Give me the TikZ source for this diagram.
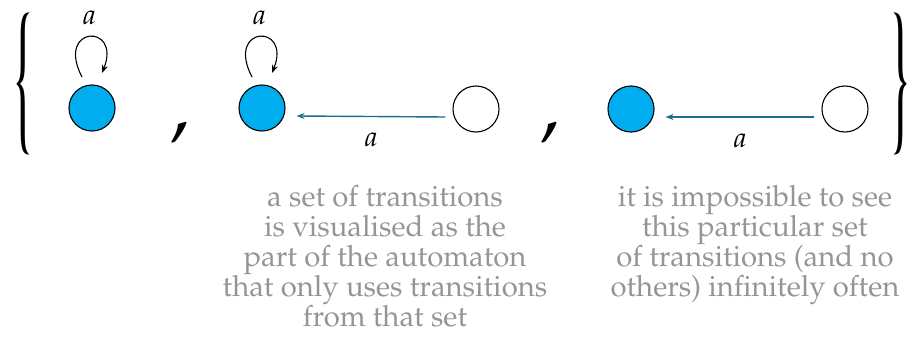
\documentclass[tikz,border=0pt]{standalone}
\usepackage[T1]{fontenc}
\usepackage{mathpazo}
\usepackage{graphicx}
\usetikzlibrary{arrows.meta,positioning}
\definecolor{statefill}{RGB}{0,174,239}
\definecolor{transcol}{RGB}{28,110,145}
\definecolor{notegray}{RGB}{147,149,152}
\tikzset{
  basic/.style  = {draw, circle, minimum size=46pt, inner sep=0pt, line width=1.1pt},
  accepting/.style = {basic, fill=statefill},
  plain/.style = {basic, fill=white},
  loopy/.style = {-{Stealth[length=8pt,width=6pt]}, line width=1.1pt},
  trans/.style = {-{Stealth[length=8pt,width=6pt]}, transcol, line width=1.4pt},
  lbl/.style = {font=\fontsize{28}{28}\selectfont, inner sep=0pt, text=black},
  sep/.style = {font=\fontsize{76}{76}\selectfont, inner sep=0pt},
  brace/.style = {inner sep=0pt},
  note/.style = {align=center, text=notegray, inner sep=0pt,
                 font=\fontsize{29.3}{30}\selectfont}
}

\begin{document}
\begin{tikzpicture}[x=1pt,y=-1pt]
\useasboundingbox (0,0) rectangle (909,353);
% the set
\node[brace] (lb) at (23.5,83) {\resizebox*{19pt}{140pt}{\textbraceleft}};
\node[brace] (rb) at (900.5,83) {\resizebox*{19pt}{140pt}{\textbraceright}};
\node[sep] (cm1) at (180,133) {,};
\node[sep] (cm2) at (550,133) {,};
% first element: a self loop
\node[accepting] (s1) at (92,108) {};
\draw[loopy] ([shift={(-10,-31)}]s1.center) .. controls +(-27,-52) and +(20,-50) .. ([shift={(10,-35)}]s1.center)
  node[lbl, pos=0.5, above=11pt] (l1) {$a$};
% second element
\node[accepting] (s2) at (262,108) {};
\node[plain] (s3) at (476,109) {};
\draw[loopy] ([shift={(-10,-31)}]s2.center) .. controls +(-27,-52) and +(20,-50) .. ([shift={(10,-35)}]s2.center)
  node[lbl, pos=0.5, above=11pt] (l2) {$a$};
\draw[trans] ([shift={(-7,8)}]s3.west) -- ([shift={(11,8)}]s2.east)
  node[lbl, midway, below=16pt] (l3) {$a$};
% third element
\node[accepting] (s4) at (631,109) {};
\node[plain] (s5) at (845,109) {};
\draw[trans] ([shift={(-7,8)}]s5.west) -- ([shift={(11,8)}]s4.east)
  node[lbl, midway, below=16pt] (l4) {$a$};
% notes
\node[note, anchor=north] (n1) at (385,185) {a set of transitions\\is visualised as the\\part of the automaton\\that only uses transitions\\from that set};
\node[note, anchor=north] (n2) at (755,185) {it is impossible to see\\this particular set\\of transitions (and no\\others) infinitely often};
\end{tikzpicture}
\end{document}
